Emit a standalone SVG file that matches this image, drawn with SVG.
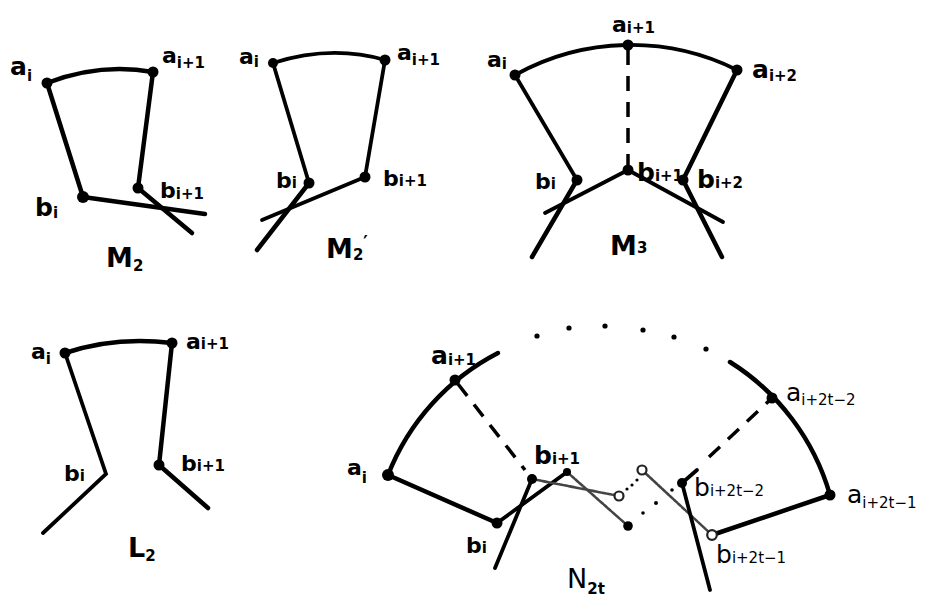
<svg xmlns="http://www.w3.org/2000/svg" width="930" height="599" viewBox="0 0 930 599">
<style>
.bg{fill:#fff}
.lbl{font-family:"DejaVu Sans","Liberation Sans",sans-serif;font-size:25px;font-weight:bold;fill:#000}
.sm{font-size:22px}
.sub{font-size:15px}
.cap{font-family:"DejaVu Sans","Liberation Sans",sans-serif;font-size:27px;font-weight:bold;fill:#000}
.thin{font-weight:normal}
.ln{stroke:#000;stroke-width:4.5;fill:none;stroke-linecap:round;stroke-linejoin:round}
.ln2{stroke:#000;stroke-width:3.8;fill:none;stroke-linecap:round}
.dash{stroke:#000;stroke-width:3.5;fill:none;stroke-dasharray:15 11}
.gray{stroke:#444;stroke-width:2.6;fill:none;stroke-dasharray:4 1.5;stroke-linecap:round}
.dot{fill:#000}
.hol{fill:#fff;stroke:#222;stroke-width:2.2}
.pt{fill:#000}
</style>
<rect class="bg" x="0" y="0" width="930" height="599"/>

<g id="connectors">
  <!-- M2 -->
  <path class="ln" d="M47 83 Q100 62.5 153 72"/>
  <path class="ln" d="M47 83 L83 197"/>
  <path class="ln" d="M153 72 L138 188"/>
  <path class="ln" d="M83 197 L205 214"/>
  <path class="ln" d="M138 188 L192 233"/>
  <!-- M2' -->
  <path class="ln2" d="M273 63 Q331 44.5 385 60"/>
  <path class="ln2" d="M273 63 L309 183"/>
  <path class="ln2" d="M385 60 L365 177"/>
  <path class="ln2" d="M365 177 L262 220"/>
  <path class="ln" d="M309 183 L257 250"/>
  <!-- M3 -->
  <path class="ln2" d="M515 75 A238 238 0 0 1 737 70"/>
  <path class="dash" d="M628 50 L628 168"/>
  <path class="ln2" d="M515 75 L577 180"/>
  <path class="ln" d="M737 70 L683 180"/>
  <path class="ln2" d="M628 170 L545 213"/>
  <path class="ln2" d="M628 170 L723 222"/>
  <path class="ln" d="M577 180 L532 257"/>
  <path class="ln" d="M683 180 L722 257"/>
  <!-- L2 -->
  <path class="ln" d="M65 353 Q115.5 336 172 343"/>
  <path class="ln2" d="M65 353 L106 474 L43 533"/>
  <path class="ln" d="M172 343 L159 465 L208 508"/>
  <!-- N2t -->
  <path class="ln" d="M388 475 A233 233 0 0 1 498 353"/>
  <path class="ln" d="M730 362 A233 233 0 0 1 830 495"/>
  <path class="dash" d="M458 384 L525 470"/>
  <path class="ln" d="M388 475 L497 523"/>
  <path class="ln2" d="M497 523 L567 472"/>
  <path class="ln2" d="M495 568 L532 479"/>
  <path class="gray" d="M532 479 L619 496"/>
  <path class="gray" d="M567 472 L628 526"/>
  <path class="gray" d="M642 470 L712 535"/>
  <path class="ln2" d="M682 483 L710 590"/>
  <path class="ln2" d="M682 483 L697 470"/>
  <path class="dash" d="M709 457 L772 398"/>
  <path class="ln" d="M712 535 L830 495"/>
  <g class="pt">
    <circle cx="537" cy="336" r="2.6"/>
    <circle cx="569" cy="328" r="2.6"/>
    <circle cx="605" cy="326" r="2.6"/>
    <circle cx="643" cy="330" r="2.6"/>
    <circle cx="674" cy="337" r="2.6"/>
    <circle cx="706" cy="349" r="2.6"/>
    <circle cx="627" cy="489" r="1.6"/>
    <circle cx="632" cy="485" r="1.6"/>
    <circle cx="637" cy="480" r="1.6"/>
    <circle cx="643" cy="513" r="1.8"/>
    <circle cx="656" cy="503" r="2"/>
    <circle cx="672" cy="490" r="1.8"/>
  </g>
</g>

<g id="fig-M2">
  <g id="m2-ai"><circle class="dot" cx="47" cy="83" r="5.5"/><text class="lbl" x="10" y="75">a<tspan class="sub" dy="6">i</tspan></text></g>
  <g id="m2-ai1"><circle class="dot" cx="153" cy="72" r="5.5"/><text class="lbl sm" x="162" y="63">a<tspan class="sub" dy="5">i+1</tspan></text></g>
  <g id="m2-bi"><circle class="dot" cx="83" cy="197" r="6"/><text class="lbl" x="35" y="216">b<tspan class="sub" dy="2">i</tspan></text></g>
  <g id="m2-bi1"><circle class="dot" cx="138" cy="188" r="5.5"/><text class="lbl sm" x="160" y="198">b<tspan class="sub" dy="1">i+1</tspan></text></g>
  <text id="cap-M2" class="cap" x="106" y="267">M<tspan class="sub" font-size="17" dy="4">2</tspan></text>
</g>

<g id="fig-M2p">
  <g id="m2p-ai"><circle class="dot" cx="273" cy="63" r="5"/><text class="lbl sm" x="239" y="64">a<tspan class="sub" dy="3">i</tspan></text></g>
  <g id="m2p-ai1"><circle class="dot" cx="385" cy="60" r="5.5"/><text class="lbl sm" x="397" y="60">a<tspan class="sub" dy="5">i+1</tspan></text></g>
  <g id="m2p-bi"><circle class="dot" cx="309" cy="183" r="5.5"/><text class="lbl sm" x="276" y="188">b<tspan class="sub" dy="0">i</tspan></text></g>
  <g id="m2p-bi1"><circle class="dot" cx="365" cy="177" r="5.5"/><text class="lbl sm" x="383" y="186">b<tspan class="sub" dy="0">i+1</tspan></text></g>
  <text id="cap-M2p" class="cap" x="326" y="258">M<tspan class="sub" font-size="17" dy="2">2</tspan><tspan font-size="17" dy="-12">′</tspan></text>
</g>

<g id="fig-M3">
  <g id="m3-ai"><circle class="dot" cx="515" cy="75" r="5.5"/><text class="lbl sm" x="487" y="67">a<tspan class="sub" dy="2">i</tspan></text></g>
  <g id="m3-ai1"><circle class="dot" cx="628" cy="45" r="5.5"/><text class="lbl sm" x="612" y="32">a<tspan class="sub" dy="1">i+1</tspan></text></g>
  <g id="m3-ai2"><circle class="dot" cx="737" cy="70" r="5.5"/><text class="lbl" x="752" y="78">a<tspan class="sub" dy="3">i+2</tspan></text></g>
  <g id="m3-bi"><circle class="dot" cx="577" cy="180" r="5.5"/><text class="lbl sm" x="535" y="189">b<tspan class="sub" dy="0">i</tspan></text></g>
  <g id="m3-bi1"><circle class="dot" cx="628" cy="170" r="5.5"/><text class="lbl" font-size="19" x="637" y="181">b<tspan class="sub" font-size="13" dy="0">i+1</tspan></text></g>
  <g id="m3-bi2"><circle class="dot" cx="683" cy="180" r="5.5"/><text class="lbl" x="697" y="188">b<tspan class="sub" dy="0">i+2</tspan></text></g>
  <text id="cap-M3" class="cap" x="610" y="255">M<tspan class="sub" font-size="16" dy="-2">3</tspan></text>
</g>

<g id="fig-L2">
  <g id="l2-ai"><circle class="dot" cx="65" cy="353" r="5.5"/><text class="lbl sm" x="31" y="359">a<tspan class="sub" dy="5">i</tspan></text></g>
  <g id="l2-ai1"><circle class="dot" cx="172" cy="343" r="5.5"/><text class="lbl sm" x="186" y="349">a<tspan class="sub" dy="0">i+1</tspan></text></g>
  <g id="l2-bi"><text class="lbl sm" x="64" y="481">b<tspan class="sub" dy="0">i</tspan></text></g>
  <g id="l2-bi1"><circle class="dot" cx="159" cy="465" r="5.5"/><text class="lbl sm" x="181" y="471">b<tspan class="sub" dy="0">i+1</tspan></text></g>
  <text id="cap-L2" class="cap" font-size="31" x="128" y="557">L<tspan class="sub" font-size="20" dy="4">2</tspan></text>
</g>

<g id="fig-N2t">
  <g id="n-ai"><circle class="dot" cx="388" cy="475" r="6"/><text class="lbl sm" x="347" y="475">a<tspan class="sub" dy="8">i</tspan></text></g>
  <g id="n-ai1"><circle class="dot" cx="455" cy="380" r="5.5"/><text class="lbl" font-size="19" x="431" y="364">a<tspan class="sub" font-size="13" dy="1">i+1</tspan></text></g>
  <g id="n-bi"><circle class="dot" cx="497" cy="523" r="5.5"/><text class="lbl sm" x="466" y="553">b<tspan class="sub" dy="0">i</tspan></text></g>
  <g id="n-bi1"><circle class="dot" cx="532" cy="479" r="5"/><text class="lbl" font-size="20" x="534" y="464">b<tspan class="sub" font-size="14" dy="0">i+1</tspan></text></g>
  <g id="n-b2"><circle class="dot" cx="567" cy="472" r="4"/></g>
  <g id="n-b3"><circle class="hol" cx="619" cy="496" r="4.5"/></g>
  <g id="n-b4"><circle class="dot" cx="628" cy="526" r="4.8"/></g>
  <g id="n-b5"><circle class="hol" cx="642" cy="470" r="4.5"/></g>
  <g id="n-ai2t2"><circle class="dot" cx="772" cy="398" r="5.5"/><text class="lbl thin" font-size="24" x="786" y="401">a<tspan class="sub" font-size="17" dy="4">i+2t−2</tspan></text></g>
  <g id="n-ai2t1"><circle class="dot" cx="830" cy="495" r="5.5"/><text class="lbl thin" font-size="24" x="847" y="503">a<tspan class="sub" font-size="17" dy="5">i+2t−1</tspan></text></g>
  <g id="n-bi2t2"><circle class="dot" cx="682" cy="483" r="5"/><text class="lbl thin" font-size="24" x="694" y="496">b<tspan class="sub" font-size="16" dy="0">i+2t−2</tspan></text></g>
  <g id="n-bi2t1"><circle class="hol" cx="712" cy="535" r="4.8"/><text class="lbl thin" font-size="25" x="716" y="563">b<tspan class="sub" font-size="17" dy="0">i+2t−1</tspan></text></g>
  <text id="cap-N2t" class="cap thin" font-size="40" x="567" y="588">N<tspan class="sub" font-size="22" dy="6" style="font-weight:bold">2t</tspan></text>
</g>
</svg>
